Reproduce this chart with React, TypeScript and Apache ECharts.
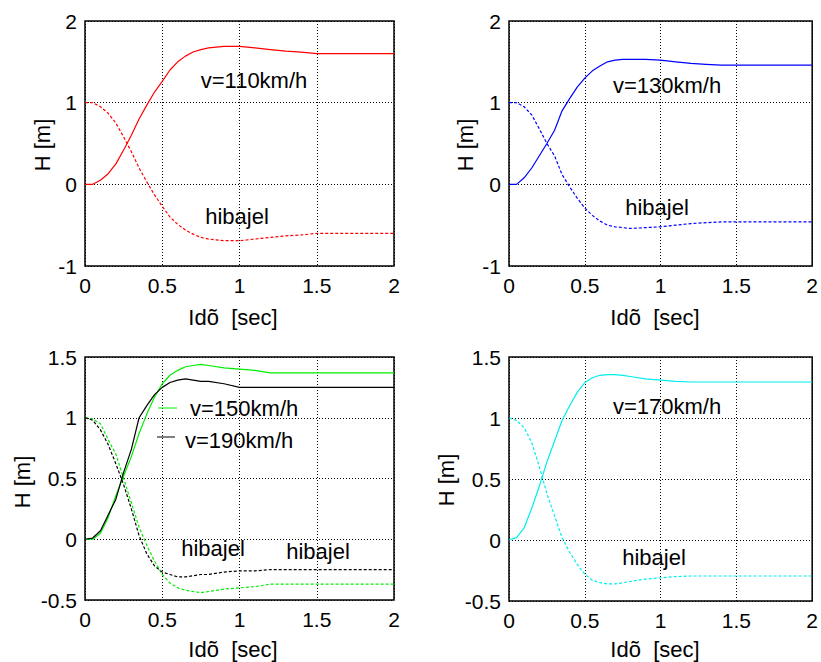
import React, { useEffect, useRef } from "react";
import * as echarts from "echarts";

// time axis (sec)
const T = [0, 0.05, 0.1, 0.15, 0.2, 0.25, 0.3, 0.35, 0.4, 0.45, 0.5, 0.55, 0.6, 0.65, 0.7, 0.75, 0.8, 0.9, 1.0, 1.1, 1.2, 1.3, 1.4, 1.5, 1.75, 2.0];

// v=110km/h
const H110 = [0, 0, 0.05, 0.13, 0.25, 0.42, 0.6, 0.8, 0.97, 1.13, 1.26, 1.4, 1.5, 1.57, 1.62, 1.65, 1.67, 1.69, 1.69, 1.67, 1.65, 1.63, 1.62, 1.6, 1.6, 1.6];
const E110 = [1, 1, 0.95, 0.87, 0.75, 0.58, 0.4, 0.2, 0.03, -0.13, -0.27, -0.4, -0.49, -0.56, -0.61, -0.65, -0.67, -0.69, -0.69, -0.67, -0.65, -0.63, -0.62, -0.6, -0.6, -0.6];

// v=130km/h
const H130 = [0, 0, 0.08, 0.2, 0.35, 0.5, 0.66, 0.9, 1.05, 1.19, 1.3, 1.39, 1.45, 1.5, 1.52, 1.53, 1.53, 1.53, 1.52, 1.5, 1.48, 1.47, 1.46, 1.46, 1.46, 1.46];
const E130 = [1, 1, 0.95, 0.85, 0.68, 0.5, 0.35, 0.12, -0.03, -0.17, -0.29, -0.38, -0.45, -0.5, -0.52, -0.53, -0.54, -0.53, -0.52, -0.5, -0.48, -0.47, -0.46, -0.46, -0.46, -0.46];

// v=150km/h
const H150 = [0, 0, 0.05, 0.18, 0.36, 0.52, 0.68, 0.87, 1.03, 1.17, 1.28, 1.35, 1.39, 1.42, 1.43, 1.44, 1.43, 1.41, 1.4, 1.39, 1.37, 1.37, 1.37, 1.37, 1.37, 1.37];
const E150 = [1, 0.99, 0.95, 0.82, 0.7, 0.5, 0.3, 0.1, -0.05, -0.18, -0.29, -0.36, -0.4, -0.42, -0.43, -0.44, -0.43, -0.41, -0.4, -0.39, -0.37, -0.37, -0.37, -0.37, -0.37, -0.37];

// v=190km/h
const H190 = [0, 0.01, 0.07, 0.2, 0.33, 0.55, 0.74, 1.0, 1.1, 1.19, 1.25, 1.29, 1.31, 1.32, 1.31, 1.3, 1.3, 1.28, 1.25, 1.25, 1.25, 1.25, 1.25, 1.25, 1.25, 1.25];
const E190 = [1, 0.98, 0.9, 0.78, 0.62, 0.45, 0.25, 0.03, -0.12, -0.22, -0.27, -0.29, -0.31, -0.31, -0.3, -0.29, -0.29, -0.27, -0.26, -0.26, -0.25, -0.25, -0.25, -0.25, -0.25, -0.25];

// v=170km/h
const H170 = [0, 0.02, 0.1, 0.26, 0.44, 0.64, 0.81, 0.98, 1.1, 1.21, 1.29, 1.33, 1.35, 1.355, 1.355, 1.35, 1.34, 1.32, 1.31, 1.3, 1.295, 1.295, 1.295, 1.295, 1.295, 1.295];
const E170 = [1, 0.98, 0.92, 0.8, 0.6, 0.38, 0.2, 0.02, -0.1, -0.2, -0.28, -0.33, -0.35, -0.36, -0.36, -0.35, -0.34, -0.32, -0.31, -0.3, -0.295, -0.295, -0.295, -0.295, -0.295, -0.295];

const X_LABEL = "Idõ  [sec]";
const Y_LABEL = "H [m]";
const ERR_LABEL = "hibajel";

const FONT = "Liberation Sans, Arial, Helvetica, sans-serif";

const pairs = (ys: number[]) => T.map((t, i) => [t, ys[i]]);

export default function App() {
  const ref = useRef<HTMLDivElement>(null);
  useEffect(() => {
    if (!ref.current) return;
    const chart = echarts.init(ref.current, undefined, { renderer: "svg" });

    const grids = [
      { left: 85, top: 21, width: 309, height: 245 },
      { left: 509, top: 21, width: 308, height: 245 },
      { left: 85, top: 357, width: 309, height: 243 },
      { left: 509, top: 357, width: 308, height: 244 },
    ];
    const yRanges = [
      [-1, 2, 1],
      [-1, 2, 1],
      [-0.5, 1.5, 0.5],
      [-0.5, 1.5, 0.5],
    ];

    const xAxis = grids.map((_, i) => ({
      type: "value",
      gridIndex: i,
      min: 0,
      max: 2,
      interval: 0.5,
      axisLine: { show: false },
      axisTick: { show: false },
      axisLabel: { color: "#000", fontSize: 21, fontFamily: FONT, margin: 9 },
      splitLine: { show: true, lineStyle: { color: "#000", type: [1, 2], width: 1 } },
    }));
    const yAxis = grids.map((_, i) => ({
      type: "value",
      gridIndex: i,
      min: yRanges[i][0],
      max: yRanges[i][1],
      interval: yRanges[i][2],
      axisLine: { show: false },
      axisTick: { show: false },
      axisLabel: { color: "#000", fontSize: 21, fontFamily: FONT, margin: 8 },
      splitLine: { show: true, lineStyle: { color: "#000", type: [1, 2], width: 1 } },
    }));

    const mk = (name: string, data: number[], idx: number, color: string, dashed: boolean) => ({
      type: "line",
      name,
      xAxisIndex: idx,
      yAxisIndex: idx,
      data: pairs(data),
      symbol: "none",
      smooth: false,
      lineStyle: { color, width: 1.2, type: dashed ? [3, 2] : "solid" },
      itemStyle: { color },
      z: 3,
    });

    const series = [
      mk("v=110km/h", H110, 0, "#ff0000", false),
      mk("hibajel 110", E110, 0, "#ff0000", true),
      mk("v=130km/h", H130, 1, "#0000ff", false),
      mk("hibajel 130", E130, 1, "#0000ff", true),
      mk("v=150km/h", H150, 2, "#00ee00", false),
      mk("hibajel 150", E150, 2, "#00ee00", true),
      mk("v=190km/h", H190, 2, "#000000", false),
      mk("hibajel 190", E190, 2, "#000000", true),
      mk("v=170km/h", H170, 3, "#00eeee", false),
      mk("hibajel 170", E170, 3, "#00eeee", true),
    ];

    const txt = (text: string, x: number, y: number, size = 22, rot = 0, align = "center") => ({
      type: "text",
      x,
      y,
      rotation: rot,
      silent: true,
      z: 10,
      style: {
        text,
        x: 0,
        y: 0,
        fill: "#000",
        font: `${size}px ${FONT}`,
        align,
        textAlign: align,
        verticalAlign: "middle",
        textVerticalAlign: "middle",
      },
    });

    const graphic = [
      // axis titles
      txt(Y_LABEL, 42, 145, 22, Math.PI / 2),
      txt(Y_LABEL, 465, 145, 22, Math.PI / 2),
      txt(Y_LABEL, 22, 482, 22, Math.PI / 2),
      txt(Y_LABEL, 446, 480, 22, Math.PI / 2),
      txt(X_LABEL, 233, 317),
      txt(X_LABEL, 655, 317),
      txt(X_LABEL, 233, 649),
      txt(X_LABEL, 655, 649),
      // annotations
      txt("v=110km/h", 254, 80),
      txt(ERR_LABEL, 237, 216),
      txt("v=130km/h", 667, 85),
      txt(ERR_LABEL, 657, 207),
      txt(ERR_LABEL, 213, 548),
      txt(ERR_LABEL, 318, 551),
      txt("v=170km/h", 667, 406),
      txt(ERR_LABEL, 654, 557),
      // legend in 3rd plot
      {
        type: "line",
        z: 10,
        shape: { x1: 158, y1: 408, x2: 177, y2: 408 },
        style: { stroke: "#00ee00", lineWidth: 1 },
      },
      txt("v=150km/h", 190, 408, 22, 0, "left"),
      {
        type: "line",
        z: 10,
        shape: { x1: 157, y1: 437, x2: 175, y2: 437 },
        style: { stroke: "#000", lineWidth: 1 },
      },
      txt("v=190km/h", 185, 440, 22, 0, "left"),
    ];

    chart.setOption({
      animation: false,
      backgroundColor: "#fff",
      textStyle: { fontFamily: FONT },
      grid: grids.map((g) => ({
        ...g,
        show: true,
        borderColor: "#000",
        borderWidth: 1.5,
        backgroundColor: "transparent",
        containLabel: false,
      })),
      xAxis,
      yAxis,
      series,
      graphic,
    });
    return () => chart.dispose();
  }, []);
  return (
    <div
      ref={ref}
      style={{ position: "fixed", left: 0, top: 0, width: 821, height: 662, background: "#fff" }}
    />
  );
}
